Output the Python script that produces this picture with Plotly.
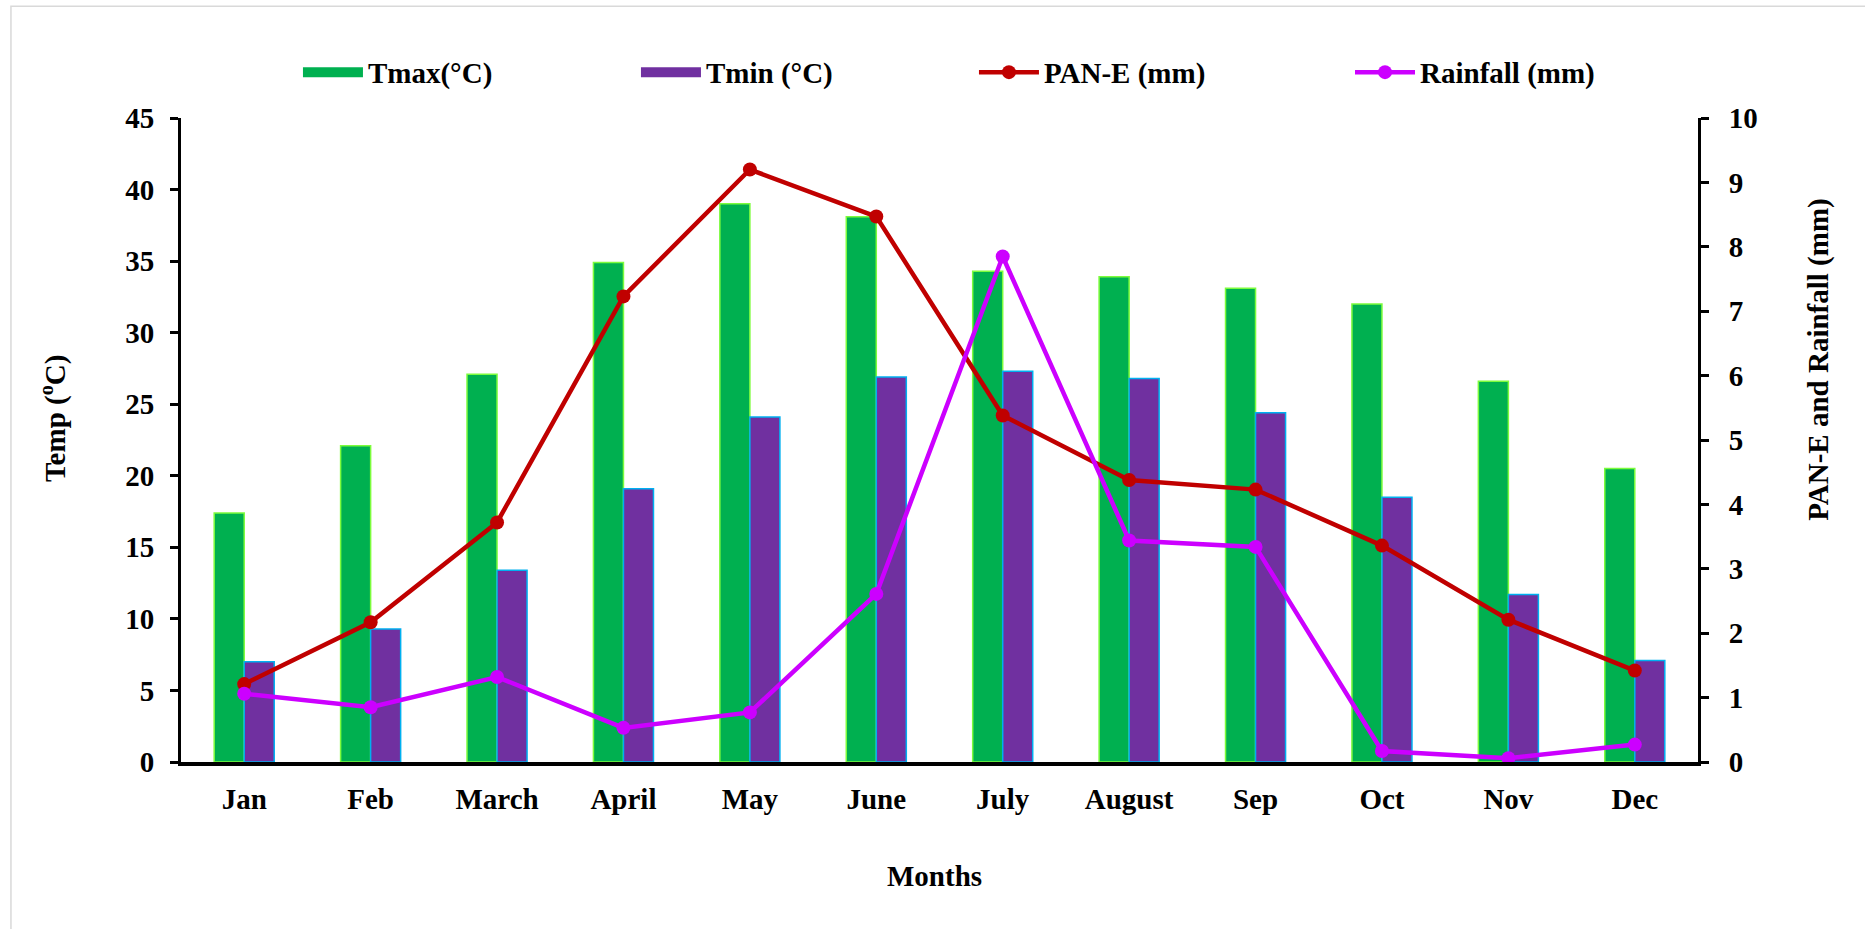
import plotly.graph_objects as go

# Monthly climate data
months = ["Jan", "Feb", "March", "April", "May", "June",
          "July", "August", "Sep", "Oct", "Nov", "Dec"]
tmax = [17.4, 22.1, 27.1, 34.9, 39.0, 38.1, 34.3, 33.9, 33.1, 32.0, 26.6, 20.5]
tmin = [7.0, 9.3, 13.4, 19.1, 24.1, 26.9, 27.3, 26.8, 24.4, 18.5, 11.7, 7.1]
pan_e = [1.21, 2.17, 3.72, 7.23, 9.20, 8.47, 5.38, 4.38, 4.23, 3.36, 2.21, 1.42]
rainfall = [1.06, 0.85, 1.32, 0.53, 0.77, 2.61, 7.85, 3.44, 3.34, 0.17, 0.06, 0.27]

FONT = "Liberation Serif"
FS = 29

TMAX_FILL, TMAX_EDGE = "#00B050", "#7CFC3C"
TMIN_FILL, TMIN_EDGE = "#7030A0", "#00B0F0"

fig = go.Figure()

fig.add_trace(go.Bar(
    x=months, y=tmax, name="Tmax(°C)", legendgroup="tmax", showlegend=False,
    marker=dict(color=TMAX_FILL, line=dict(color=TMAX_EDGE, width=1.5)),
))
fig.add_trace(go.Bar(
    x=months, y=tmin, name="Tmin (°C)", legendgroup="tmin", showlegend=False,
    marker=dict(color=TMIN_FILL, line=dict(color=TMIN_EDGE, width=1.5)),
))

# Wide rectangular legend keys for the two bar series
fig.add_trace(go.Scatter(
    x=[None], y=[None], name="Tmax(°C)", legendgroup="tmax",
    mode="lines", line=dict(color=TMAX_FILL, width=16),
))
fig.add_trace(go.Scatter(
    x=[None], y=[None], name="Tmin (°C)", legendgroup="tmin",
    mode="lines", line=dict(color=TMIN_FILL, width=16),
))

fig.add_trace(go.Scatter(
    x=months, y=pan_e, name="PAN-E (mm)", yaxis="y2",
    mode="lines+markers",
    line=dict(color="#C00000", width=4.5),
    marker=dict(color="#C00000", size=14),
))
fig.add_trace(go.Scatter(
    x=months, y=rainfall, name="Rainfall (mm)", yaxis="y2",
    mode="lines+markers", legend="legend2",
    line=dict(color="#CC00FF", width=4.5),
    marker=dict(color="#CC00FF", size=14),
))

axis_font = dict(family=FONT, size=FS, color="black", weight="bold")

legend_common = dict(
    orientation="h", xanchor="left", y=1.071, yanchor="middle",
    font=axis_font, itemwidth=60, bgcolor="rgba(0,0,0,0)",
    traceorder="normal",
)

fig.update_layout(
    width=1865, height=929,
    margin=dict(l=181, r=167, t=118, b=167, autoexpand=False),
    paper_bgcolor="white", plot_bgcolor="white",
    barmode="group", bargap=0.525, bargroupgap=0,
    showlegend=True,
    legend=dict(x=0.0771, entrywidth=263, entrywidthmode="pixels",
                **legend_common),
    legend2=dict(x=0.7706, **legend_common),
    xaxis=dict(
        type="category", range=[-0.5, len(months) - 0.5],
        showgrid=False, zeroline=False,
        showline=True, linecolor="black", linewidth=3.5,
        ticks="", tickfont=axis_font, ticklabelstandoff=8,
    ),
    yaxis=dict(
        range=[0, 45], dtick=5, showgrid=False, zeroline=False,
        showline=True, linecolor="black", linewidth=3,
        ticks="outside", ticklen=8, tickwidth=3, tickcolor="black",
        tickfont=axis_font, ticklabelstandoff=10,
    ),
    yaxis2=dict(
        range=[0, 10], dtick=1, overlaying="y", side="right",
        showgrid=False, zeroline=False,
        showline=True, linecolor="black", linewidth=3,
        ticks="outside", ticklen=8, tickwidth=3, tickcolor="black",
        tickfont=axis_font, ticklabelstandoff=14,
    ),
    annotations=[
        dict(text="Temp (<sup>o</sup>C)", xref="paper", yref="paper",
             x=-0.0844, y=0.534, textangle=-90, showarrow=False,
             font=axis_font, xanchor="center", yanchor="middle"),
        dict(text="PAN-E and Rainfall (mm)", xref="paper", yref="paper",
             x=1.0795, y=0.624, textangle=-90, showarrow=False,
             font=axis_font, xanchor="center", yanchor="middle"),
        dict(text="Months", xref="paper", yref="paper",
             x=0.497, y=-0.177, showarrow=False,
             font=axis_font, xanchor="center", yanchor="middle"),
    ],
    shapes=[
        dict(type="rect", xref="paper", yref="paper", layer="below",
             x0=-0.1121, x1=1.3, y0=-0.5, y1=1.1735,
             line=dict(color="#D9D9D9", width=1.5), fillcolor="rgba(0,0,0,0)"),
    ],
)

fig.write_html("out.html")
